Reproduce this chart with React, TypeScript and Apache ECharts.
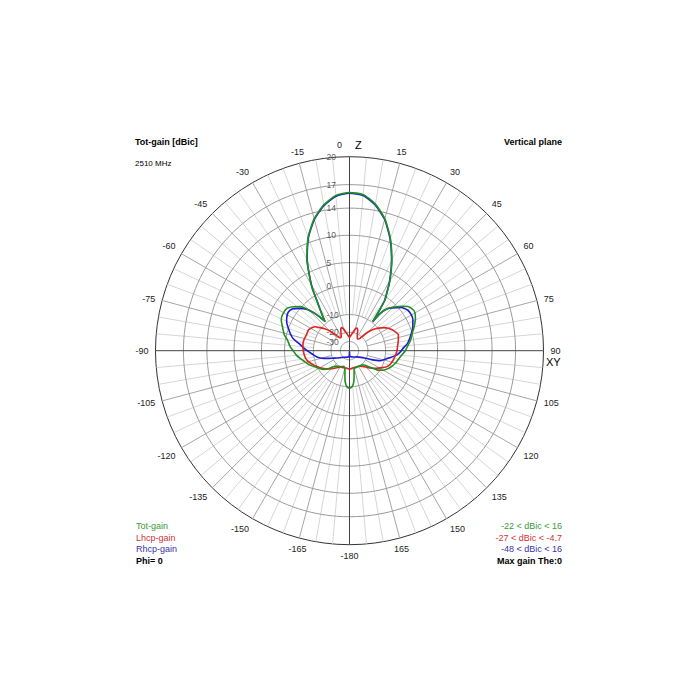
import React, { useEffect, useRef } from 'react';
import * as echarts from 'echarts';

// radial scale of the plot (dB rings and their relative radius)
const RING_DB = [20, 17, 14, 10, 5, 0, -10, -20, -30, -50];
const RING_FRAC = [1, 0.856, 0.735, 0.595, 0.454, 0.335, 0.186, 0.095, 0.047, 0];
const RING_LABELS = ['20', '17', '14', '10', '5', '0', '-10', '-20', '-30'];

// Tot-gain (green)
const TOT_ANGLES = [-180, -177, -174, -171, -168, -165, -160, -155, -150, -145, -140, -135, -130, -126, -120, -115, -110, -104, -100, -95, -90, -86, -80, -76, -70, -66, -62, -56, -52, -48, -46, -43, -41.5, -40, -38, -36, -33, -31, -29, -25, -20, -15, -10, -5,
  0, 5, 10, 15, 20, 25, 30, 33, 35, 36.5, 38.5, 39.5, 42.5, 45, 48, 50, 53, 57, 60, 64, 70, 75, 80, 85, 90, 95, 100, 105, 110, 115, 120, 125, 130, 135, 140, 145, 150, 155, 160, 165, 168, 171, 174, 177, 180];
const TOT_GAIN = [-9.5, -9.8, -11, -14, -18, -20.5, -22, -21, -20, -19.5, -19, -17.5, -14.5, -12.3, -10.5, -9.3, -7.9, -6.6, -5.5, -4.1, -3, -1.9, -0.6, 0.5, 1.4, 2.1, 2.4, 2.3, 1.4, 0.2, -1.4, -4.6, -6.8, -9.3, -7.5, -5.5, -1.6, 1.5, 3.5, 7.3, 10.8, 13.1, 14.7, 15.7,
  16, 15.8, 14.8, 13.1, 10.6, 7.2, 3.4, 0.8, -1.2, -5, -9.6, -5.5, -2.6, -1.1, 0.2, 0.9, 1.8, 2.3, 2.3, 1.8, 0.8, -0.1, -1, -2.2, -3.2, -4.4, -5.3, -6, -6.8, -7.8, -9, -11.5, -16.3, -19, -19.8, -20.2, -20.5, -20.4, -20.6, -20.3, -18, -14, -11, -9.8, -9.5];

// Lhcp-gain (red)
const LHCP_ANGLES = [-180, -170, -160, -150, -145, -140, -133, -127, -122, -116, -111, -106, -102, -96, -90, -85, -79, -74, -70, -63, -58, -55, -52, -48, -45, -42, -38, -34, -30, -26, -22, -19, -15, -10, -5,
  0, 5, 10, 15, 18, 22, 26, 30, 34, 37, 40, 42.5, 45, 48, 52, 56, 60, 65, 72, 79, 85, 91, 97, 102, 108, 113, 117, 121, 126, 132, 140, 150, 160, 170, 180];
const LHCP_GAIN = [-20, -21, -20.5, -19.8, -18.8, -17.5, -15.3, -13.3, -11.8, -10, -9, -8, -7.3, -6.8, -6.5, -6.3, -6.2, -6.4, -6.6, -6.6, -7.3, -8, -9.5, -12, -14.5, -18, -21.5, -23, -22, -19.5, -17.3, -16.6, -17.8, -20.5, -23.5,
  -25.5, -23.5, -20.5, -17.6, -17, -18, -20.5, -23, -24.5, -24, -22.4, -18.5, -15.3, -12.5, -9.8, -8.2, -7, -5.8, -4.7, -5.3, -5.8, -6.1, -6.6, -7, -7.6, -8.4, -9.6, -11.3, -13.5, -16.1, -18.8, -20.6, -21, -21, -20];

// Rhcp-gain (blue)
const RHCP_ANGLES = [-180, -177, -170, -160, -150, -140, -130, -126, -120, -115, -110, -105, -101, -96, -91, -87, -83, -78, -74, -70, -66, -63, -58, -54, -50, -46, -43, -41.5, -40, -38, -36, -33, -31, -29, -25, -20, -15, -10, -5,
  0, 5, 10, 15, 20, 25, 30, 33, 35, 36.5, 38.5, 39.5, 42, 44.5, 50, 55, 60, 64, 70, 78, 83, 87, 91, 95, 100, 104, 108, 112, 116, 120, 130, 140, 150, 160, 170, 177, 180];
const RHCP_GAIN = [-48, -38, -36, -35, -33.5, -31, -28.5, -27, -24, -21, -17.7, -14, -11.7, -9.8, -8.2, -6.8, -5.3, -2.6, -1.2, 0, 0.8, 1.2, 1.6, 1.3, 0.2, -1.8, -4.8, -7, -9.3, -7.6, -5.6, -1.7, 1.4, 3.4, 7.2, 10.7, 13, 14.6, 15.6,
  15.9, 15.7, 14.7, 13, 10.5, 7.1, 3.3, 0.7, -1.3, -5.1, -9.6, -5.6, -3, -1.7, 0.5, 1.3, 1.4, 1.2, 0.5, -1.1, -2.3, -3.8, -4.8, -6, -8.4, -10, -12.2, -17, -22, -25.5, -29.5, -32, -34, -35.5, -36.5, -38, -48];

const LEGEND_NAMES = ['Tot-gain', 'Lhcp-gain', 'Rhcp-gain'];
const LEGEND_RANGES = ['-22 < dBic < 16', '-27 < dBic < -4.7', '-48 < dBic < 16'];
const CURVE_COLORS = ['#1f8f1f', '#e02222', '#1c1cd0'];
const TEXT_COLORS = ['#3a9a3a', '#d03434', '#3434a8'];

const FONT = '"Liberation Sans", Arial, sans-serif';

function dbToR(db: number): number {
  if (db >= RING_DB[0]) return 1;
  for (let i = 0; i < RING_DB.length - 1; i++) {
    const a = RING_DB[i];
    const b = RING_DB[i + 1];
    if (db <= a && db >= b) {
      const t = (a - db) / (a - b);
      return RING_FRAC[i] + t * (RING_FRAC[i + 1] - RING_FRAC[i]);
    }
  }
  return 0;
}
const toAxisAngle = (t: number) => (t < 0 ? t + 360 : t);

function curveData(angles: number[], gains: number[]) {
  return angles.map((a, i) => [dbToR(gains[i]), toAxisAngle(a)]);
}

export default function App() {
  const ref = useRef<HTMLDivElement>(null);
  useEffect(() => {
    if (!ref.current) return;
    const chart = echarts.init(ref.current, undefined, { renderer: 'svg' });

    const ringAngles: number[] = [];
    for (let a = 0; a <= 360; a += 2) ringAngles.push(a);

    const ringSeries = RING_FRAC.slice(1, RING_FRAC.length - 1).map((f) => ({
      type: 'line',
      coordinateSystem: 'polar',
      silent: true,
      symbol: 'none',
      data: ringAngles.map((a) => [f, a]),
      lineStyle: { color: '#9a9a9a', width: 1 },
      z: 1,
    }));

    // spokes: major every 15 deg from the -20 ring, minor every 5 deg from the -10 ring
    const spokeSeries: any[] = [];
    for (let a = 0; a < 360; a += 5) {
      if (a % 90 === 0) continue;
      const major = a % 15 === 0;
      spokeSeries.push({
        type: 'line',
        coordinateSystem: 'polar',
        silent: true,
        symbol: 'none',
        data: [[major ? RING_FRAC[7] : RING_FRAC[6], a], [1, a]],
        lineStyle: { color: major ? '#a6a6a6' : '#d6d6d6', width: 1 },
        z: 0,
      });
    }

    const axisSeries = [
      [[1, 0], [0, 0], [1, 180]],
      [[1, 270], [0, 0], [1, 90]],
    ].map((d) => ({
      type: 'line',
      coordinateSystem: 'polar',
      silent: true,
      symbol: 'none',
      data: d,
      lineStyle: { color: '#444', width: 1 },
      z: 2,
    }));

    const ringLabelSeries = {
      type: 'scatter',
      coordinateSystem: 'polar',
      silent: true,
      symbolSize: 0.01,
      itemStyle: { color: 'transparent' },
      data: RING_LABELS.map((t, i) => ({
        value: [RING_FRAC[i], 0],
        label: { formatter: t },
      })),
      label: {
        show: true,
        position: 'inside',
        align: 'left',
        verticalAlign: 'middle',
        offset: [-23, 0],
        color: '#333',
        fontSize: 8.5,
        lineHeight: 8,
        fontFamily: FONT,
      },
      z: 3,
    };

    const curves = [
      [TOT_ANGLES, TOT_GAIN],
      [LHCP_ANGLES, LHCP_GAIN],
      [RHCP_ANGLES, RHCP_GAIN],
    ].map(([an, g], i) => ({
      type: 'line',
      name: LEGEND_NAMES[i],
      coordinateSystem: 'polar',
      symbol: 'none',
      smooth: 0.2,
      data: curveData(an as number[], g as number[]),
      lineStyle: { color: CURVE_COLORS[i], width: 1.6 },
      z: i === 2 ? 4 : i === 1 ? 5 : 6,
    }));
    const curveOrder = [curves[2], curves[1], curves[0]];

    const txt = (x: number, y: number, text: string, fill: string, bold: boolean, align: string, size = 9) => ({
      type: 'text',
      x,
      y,
      silent: true,
      style: {
        text,
        fill,
        font: `${bold ? 'bold ' : ''}${size}px ${FONT}`,
        align,
        verticalAlign: 'middle',
      },
    });

    const graphics: any[] = [
      txt(135, 142, 'Tot-gain [dBic]', '#000', true, 'left'),
      txt(135, 163, '2510 MHz', '#000', false, 'left', 8),
      txt(562, 142, 'Vertical plane', '#000', true, 'right'),
      txt(355, 145, 'Z', '#000', false, 'left', 11),
      txt(546, 362, 'XY', '#000', false, 'left', 11),
    ];
    LEGEND_NAMES.forEach((n, i) => {
      graphics.push(txt(136, 526 + i * 11.6, n, TEXT_COLORS[i], false, 'left'));
      graphics.push(txt(562, 526 + i * 11.6, LEGEND_RANGES[i], TEXT_COLORS[i], false, 'right'));
    });
    graphics.push(txt(136, 561, 'Phi= 0', '#000', true, 'left'));
    graphics.push(txt(562, 561, 'Max gain The:0', '#000', true, 'right'));

    chart.setOption({
      animation: false,
      backgroundColor: '#fff',
      polar: { center: [349.5, 350.7], radius: 194 },
      angleAxis: {
        type: 'value',
        min: 0,
        max: 360,
        interval: 15,
        startAngle: 90,
        clockwise: true,
        axisLine: { show: true, lineStyle: { color: '#333', width: 1 } },
        axisTick: { show: false },
        splitLine: { show: false },
        axisLabel: {
          show: true,
          margin: 7,
          color: '#222',
          fontSize: 9,
          fontFamily: FONT,
          formatter: (v: number) => {
            if (v === 360) return '';
            if (v === 0) return '{z|0}';
            if (v === 180) return '-180';
            return v < 180 ? String(v) : String(v - 360);
          },
          rich: { z: { padding: [0, 20, 0, 0], fontSize: 9, fontFamily: FONT, color: '#222' } },
        },
      },
      radiusAxis: {
        type: 'value',
        min: 0,
        max: 1,
        axisLine: { show: false },
        axisTick: { show: false },
        axisLabel: { show: false },
        splitLine: { show: false },
      },
      series: [...spokeSeries, ...ringSeries, ...axisSeries, ringLabelSeries, ...curveOrder],
      graphic: graphics,
    });

    return () => chart.dispose();
  }, []);

  return (
    <div
      ref={ref}
      style={{ position: 'fixed', left: 0, top: 0, width: 700, height: 700, background: '#fff' }}
    />
  );
}
